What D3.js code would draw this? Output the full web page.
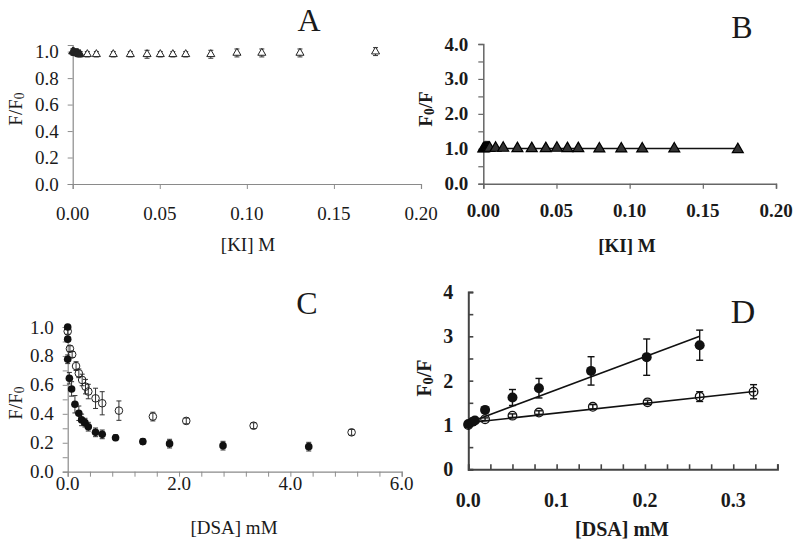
<!DOCTYPE html>
<html><head><meta charset="utf-8">
<script src="https://cdn.jsdelivr.net/npm/d3@7"></script>
<style>
body{margin:0;background:#fff}
svg{display:block}
text{font-family:"Liberation Serif","Times New Roman",serif;fill:#1a1a1a}
</style></head><body>
<svg id="c" width="800" height="545"></svg>
<script>
// ---------- DATA ----------
// Panel A / B : KI quenching
const kiX   = [0,0.0006,0.0012,0.0018,0.0024,0.003,0.0036,0.0043,0.0084,0.0136,0.0233,0.0331,0.0427,0.0503,0.0575,0.0649,0.0793,0.0943,0.1086,0.1305,0.1739];
const kiFF0 = [1.00,1.00,0.99,0.99,0.99,0.99,0.98,0.98,0.98,0.98,0.98,0.98,0.98,0.98,0.98,0.98,0.98,0.99,0.99,0.99,1.00];
const kiFF0Err = [0.02,0.02,0.02,0.02,0.02,0.02,0.02,0.02,0.02,0.02,0.02,0.02,0.03,0.02,0.02,0.02,0.03,0.03,0.03,0.03,0.03];
const kiF0F = [1.00,1.01,1.02,1.02,1.02,1.02,1.02,1.02,1.02,1.02,1.01,1.01,1.01,1.02,1.01,1.01,1.00,1.00,1.00,1.00,0.98];
const kiFitB = [[0,1.01],[0.173,1.01]];

// Panel C : DSA, F/F0
const cFilledX = [0,0.0,0.0,0.03,0.07,0.13,0.20,0.25,0.31,0.37,0.50,0.62,0.86,1.35,1.83,2.79,4.33];
const cFilledY = [1.00,0.916,0.777,0.646,0.572,0.466,0.404,0.358,0.339,0.311,0.272,0.258,0.235,0.208,0.194,0.180,0.173];
const cFilledE = [0.01,0.01,0.03,0.04,0.05,0.06,0.05,0.04,0.03,0.03,0.03,0.03,0.02,0.02,0.03,0.03,0.03];
const cOpenX = [0,0.04,0.08,0.15,0.20,0.26,0.32,0.37,0.50,0.62,0.92,1.53,2.13,3.34,5.10];
const cOpenY = [0.97,0.85,0.81,0.73,0.68,0.634,0.588,0.554,0.507,0.473,0.422,0.381,0.351,0.318,0.272];
const cOpenE = [0.02,0.02,0.02,0.03,0.03,0.04,0.05,0.05,0.07,0.08,0.067,0.03,0.02,0.02,0.02];

// Panel D : DSA, F0/F
const dFilledX = [0,0.005,0.0075,0.019,0.050,0.080,0.139,0.202,0.262];
const dFilledY = [1.02,1.075,1.10,1.34,1.62,1.83,2.22,2.53,2.80];
const dFilledE = [0.03,0.04,0.04,0.06,0.18,0.22,0.32,0.41,0.34];
const dOpenX = [0,0.019,0.050,0.080,0.141,0.203,0.262,0.323];
const dOpenY = [1.00,1.13,1.21,1.28,1.41,1.51,1.64,1.75];
const dOpenE = [0.03,0.03,0.04,0.04,0.05,0.05,0.11,0.16];
const dFitFilled = [[0,1.05],[0.262,3.00]];
const dFitOpen = [[0,1.05],[0.326,1.76]];

const ticksA_X = [0,0.05,0.10,0.15,0.20], ticksA_Y=[0,0.2,0.4,0.6,0.8,1.0];
const ticksB_X = [0,0.05,0.10,0.15,0.20], ticksB_Y=[0,1,2,3,4];
const ticksC_X = [0,2,4,6], ticksC_Y=[0,0.2,0.4,0.6,0.8,1.0];
const ticksD_X = [0,0.1,0.2,0.3], ticksD_Y=[0,1,2,3,4];

// ---------- DRAW ----------
const svg = d3.select("#c");

function axes(g, x, y, o){
  const xa = o.xInside ? d3.axisTop(x) : d3.axisBottom(x);
  const ya = o.yInside ? d3.axisRight(y) : d3.axisLeft(y);
  const gx = g.append("g").attr("transform",`translate(0,${y.range()[0]})`)
    .call(xa.tickValues(o.xMinor).tickSize(5).tickFormat(""));
  const gy = g.append("g").attr("transform",`translate(${x.range()[0]},0)`)
    .call(ya.tickValues(o.yMinor).tickSize(5).tickFormat(""));
  [gx,gy].forEach(s=>{
    s.select(".domain").attr("stroke",o.axisColor).attr("stroke-width",o.axisW);
    s.selectAll(".tick line").attr("stroke",o.axisColor).attr("stroke-width",o.axisW*0.8);
  });
  g.selectAll(null).data(o.xTicks).enter().append("text")
    .attr("x",d=>x(d)).attr("y",o.xLabelY).attr("text-anchor","middle")
    .attr("dominant-baseline","central")
    .style("font-size",o.fs+"px").style("font-weight",o.bold?"bold":"normal")
    .text(o.xFmt);
  g.selectAll(null).data(o.yTicks).enter().append("text")
    .attr("x",x.range()[0]-o.yLabelGap).attr("y",d=>y(d)).attr("text-anchor","end")
    .attr("dominant-baseline","central")
    .style("font-size",o.fs+"px").style("font-weight",o.bold?"bold":"normal")
    .text(o.yFmt);
}
function title(txt,x,y,fs,bold){
  svg.append("text").attr("x",x).attr("y",y).attr("text-anchor","middle")
    .attr("dominant-baseline","central").style("font-size",fs+"px")
    .style("font-weight",bold?"bold":"normal").text(txt);
}
function ytitle(main,sub,rest,x,y,fs,bold){
  const t = svg.append("text").attr("transform",`translate(${x},${y}) rotate(-90)`)
    .attr("text-anchor","middle").attr("dominant-baseline","central")
    .style("font-size",fs+"px").style("font-weight",bold?"bold":"normal");
  t.append("tspan").text(main);
  t.append("tspan").attr("dy",4).style("font-size",(fs*0.72)+"px").text(sub);
  t.append("tspan").attr("dy",-4).text(rest);
}
function errbars(g,x,y,xs,ys,es,cap,color,w){
  const eg = g.append("g").attr("stroke",color).attr("stroke-width",w);
  xs.forEach((xv,i)=>{
    const cx=x(xv), y1=y(ys[i]-es[i]), y2=y(ys[i]+es[i]);
    eg.append("line").attr("x1",cx).attr("x2",cx).attr("y1",y1).attr("y2",y2);
    eg.append("line").attr("x1",cx-cap).attr("x2",cx+cap).attr("y1",y1).attr("y2",y1);
    eg.append("line").attr("x1",cx-cap).attr("x2",cx+cap).attr("y1",y2).attr("y2",y2);
  });
}
const range = (a,b,s)=>d3.range(a,b+s/2,s);

// ----- Panel A -----
{
  const x = d3.scaleLinear().domain([0,0.20]).range([72.7,421]);
  const y = d3.scaleLinear().domain([0,1.05]).range([184,45]);
  const g = svg.append("g");
  axes(g,x,y,{xMinor:ticksA_X,yMinor:ticksA_Y,xTicks:ticksA_X,yTicks:ticksA_Y,
    axisColor:"#8a8a8a",axisW:1.2,fs:19,bold:false,xLabelY:213,yLabelGap:14,
    xFmt:d3.format(".2f"),yFmt:d3.format(".1f")});
  errbars(g,x,y,kiX,kiFF0,kiFF0Err,2.5,"#333",1);
  g.selectAll(null).data(kiX).enter().append("path")
    .attr("d",d3.symbol(d3.symbolTriangle,28))
    .attr("transform",(d,i)=>`translate(${x(d)},${y(kiFF0[i])})`)
    .attr("fill",(d,i)=>d<0.005?"#222":"#fff").attr("stroke","#222").attr("stroke-width",1);
  title("A",309,20,32,false);
  title("[KI] M",248,244,19,false);
  ytitle("F/F","0","",15,109,19,false);
}
// ----- Panel B -----
{
  const x = d3.scaleLinear().domain([0,0.20]).range([483.3,776]);
  const y = d3.scaleLinear().domain([0,4]).range([183.7,44]);
  const g = svg.append("g");
  axes(g,x,y,{xMinor:ticksB_X,yMinor:range(0,4,0.5),xTicks:ticksB_X,yTicks:ticksB_Y,
    axisColor:"#666",axisW:1.5,fs:19,bold:true,xLabelY:210,yLabelGap:15,
    xFmt:d3.format(".2f"),yFmt:d3.format(".1f")});
  g.append("path").datum(kiFitB).attr("fill","none").attr("stroke","#111").attr("stroke-width",1.6)
    .attr("d",d3.line().x(d=>x(d[0])).y(d=>y(d[1])));
  g.selectAll(null).data(kiX).enter().append("path")
    .attr("d",d3.symbol(d3.symbolTriangle,52))
    .attr("transform",(d,i)=>`translate(${x(d)},${y(kiF0F[i])})`)
    .attr("fill","#333").attr("stroke","#000").attr("stroke-width",1.2);
  title("B",742,27,32,false);
  title("[KI] M",627,245,19,true);
  ytitle("F","0","/F",425,109,19,true);
}
// ----- Panel C -----
{
  const x = d3.scaleLinear().domain([0,6]).range([67.7,401.7]);
  const y = d3.scaleLinear().domain([0,1.0]).range([471.7,327]);
  const g = svg.append("g");
  axes(g,x,y,{xMinor:range(0,6,0.4),yMinor:range(0,1,0.1),xTicks:ticksC_X,yTicks:ticksC_Y,
    axisColor:"#8a8a8a",axisW:1.2,fs:19,bold:false,xLabelY:483,yLabelGap:14,
    xFmt:d3.format(".1f"),yFmt:d3.format(".1f")});
  errbars(g,x,y,cOpenX,cOpenY,cOpenE,2.5,"#333",1);
  errbars(g,x,y,cFilledX,cFilledY,cFilledE,2.5,"#333",1);
  g.selectAll(null).data(cOpenX).enter().append("circle")
    .attr("cx",d=>x(d)).attr("cy",(d,i)=>y(cOpenY[i])).attr("r",3.8)
    .attr("fill","none").attr("stroke","#222").attr("stroke-width",1);
  g.selectAll(null).data(cFilledX).enter().append("circle")
    .attr("cx",d=>x(d)).attr("cy",(d,i)=>y(cFilledY[i])).attr("r",3.8)
    .attr("fill","#111");
  title("C",307,303,32,false);
  title("[DSA] mM",234,527,19,false);
  ytitle("F/F","0","",15,403,19,false);
}
// ----- Panel D -----
{
  const x = d3.scaleLinear().domain([0,0.35]).range([468.3,777.4]);
  const y = d3.scaleLinear().domain([0,4]).range([469.3,292]);
  const g = svg.append("g");
  axes(g,x,y,{xMinor:range(0,0.35,0.025),yMinor:range(0,4,0.5),xTicks:ticksD_X,yTicks:ticksD_Y,
    axisColor:"#444",axisW:2,fs:20,bold:true,xLabelY:500,yLabelGap:15,xInside:true,yInside:true,
    xFmt:d3.format(".1f"),yFmt:d3.format("d")});
  const line = d3.line().x(d=>x(d[0])).y(d=>y(d[1]));
  g.append("path").datum(dFitFilled).attr("fill","none").attr("stroke","#111").attr("stroke-width",1.6).attr("d",line);
  g.append("path").datum(dFitOpen).attr("fill","none").attr("stroke","#111").attr("stroke-width",1.6).attr("d",line);
  errbars(g,x,y,dFilledX,dFilledY,dFilledE,3.5,"#111",1.4);
  errbars(g,x,y,dOpenX,dOpenY,dOpenE,3.5,"#111",1.4);
  g.selectAll(null).data(dOpenX).enter().append("circle")
    .attr("cx",d=>x(d)).attr("cy",(d,i)=>y(dOpenY[i])).attr("r",4.3)
    .attr("fill","none").attr("stroke","#111").attr("stroke-width",1.3);
  g.selectAll(null).data(dFilledX).enter().append("circle")
    .attr("cx",d=>x(d)).attr("cy",(d,i)=>y(dFilledY[i])).attr("r",5)
    .attr("fill","#111");
  title("D",743,311,34,false);
  title("[DSA] mM",622,529,20,true);
  ytitle("F","0","/F",424,378,20,true);
}
</script></body></html>
